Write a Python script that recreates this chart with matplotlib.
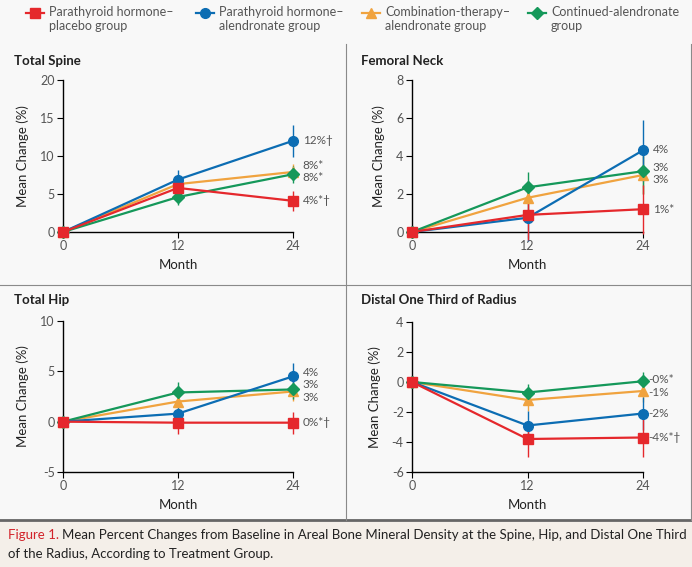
import matplotlib.pyplot as plt
from matplotlib.lines import Line2D

plt.rcParams['font.family'] = ['Lato', 'DejaVu Sans']
plt.rcParams['axes.unicode_minus'] = False

months = [0, 12, 24]
group_names = ['Parathyroid hormone\u2013\nplacebo group',
               'Parathyroid hormone\u2013\nalendronate group',
               'Combination-therapy\u2013\nalendronate group',
               'Continued-alendronate\ngroup']
colors = ['#e5282c', '#0c6db3', '#f0a33f', '#15985a']
markers = ['s', 'o', '^', 'D']
msizes = [6.5, 7, 6.5, 6]

# values per group: PTH-placebo, PTH-alendronate, combination, continued alendronate
spine_vals = [[0, 5.8, 4.1], [0, 6.9, 12.0], [0, 6.3, 7.9], [0, 4.6, 7.6]]
spine_err = [[0, 1.3, 1.3], [0, 1.3, 2.1], [0, 1.2, 1.1], [0, 1.0, 1.1]]
spine_labels = ['4%*\u2020', '12%\u2020', '8%*', '8%*']
spine_label_y = [4.1, 12.0, 8.7, 7.15]

neck_vals = [[0, 0.9, 1.2], [0, 0.75, 4.3], [0, 1.8, 3.0], [0, 2.35, 3.2]]
neck_err = [[0, 1.3, 1.3], [0, 1.2, 1.6], [0, 0.9, 1.0], [0, 0.8, 1.2]]
neck_labels = ['1%*', '4%', '3%', '3%']
neck_label_y = [1.2, 4.35, 2.78, 3.42]

hip_vals = [[0, -0.1, -0.1], [0, 0.8, 4.5], [0, 2.0, 3.0], [0, 2.9, 3.2]]
hip_err = [[0, 1.1, 1.1], [0, 0.9, 1.3], [0, 0.8, 0.9], [0, 1.0, 0.9]]
hip_labels = ['0%*\u2020', '4%', '3%', '3%']
hip_label_y = [-0.1, 4.85, 2.45, 3.65]

radius_vals = [[0, -3.8, -3.7], [0, -2.9, -2.1], [0, -1.2, -0.6], [0, -0.7, 0.05]]
radius_err = [[0, 1.2, 1.3], [0, 1.0, 1.1], [0, 0.7, 0.7], [0, 0.6, 0.6]]
radius_labels = ['-4%*\u2020', '-2%', '-1%', '-0%*']
radius_label_y = [-3.73, -2.07, -0.68, 0.14]

panels = [
    ('Total Spine', spine_vals, spine_err, spine_labels, spine_label_y, (0, 20), [0, 5, 10, 15, 20]),
    ('Femoral Neck', neck_vals, neck_err, neck_labels, neck_label_y, (0, 8), [0, 2, 4, 6, 8]),
    ('Total Hip', hip_vals, hip_err, hip_labels, hip_label_y, (-5, 10), [-5, 0, 5, 10]),
    ('Distal One Third of Radius', radius_vals, radius_err, radius_labels, radius_label_y, (-6, 4), [-6, -4, -2, 0, 2, 4]),
]

W, H = 692, 567
fig = plt.figure(figsize=(W / 100, H / 100), dpi=100)
fig.patch.set_facecolor('#f8f8f8')

# caption band and dividers
fig.patches.append(plt.Rectangle((0, 0), 1, (H - 521) / H, transform=fig.transFigure,
                                 facecolor='#f4efe9', edgecolor='none', zorder=0))
fig.add_artist(Line2D([0, 1], [(H - 520) / H] * 2, color='#666666', lw=2))
fig.add_artist(Line2D([0, 1], [(H - 285) / H] * 2, color='#8a8a8a', lw=0.8))
fig.add_artist(Line2D([346 / W] * 2, [(H - 520) / H, (H - 44) / H], color='#8a8a8a', lw=0.8))
fig.add_artist(Line2D([691 / W] * 2, [(H - 520) / H, (H - 44) / H], color='#8a8a8a', lw=0.8))

boxes = [(63, 293, 80, 232), (412, 643, 80, 232), (63, 293, 321, 472), (412, 643, 322, 472)]
title_pos = [(14, 61), (361, 61), (14, 300), (361, 300)]
label_dx = [7, 7, 7, 4]
order = [2, 3, 1, 0]

for k, ((title, vals, errs, labs, laby, ylim, yticks), (l, r, t, b), (tx, ty)) in enumerate(
        zip(panels, boxes, title_pos)):
    ax = fig.add_axes([l / W, (H - b) / H, (r - l) / W, (b - t) / H])
    ax.set_facecolor('none')
    for i in order:
        ax.errorbar(months, vals[i], yerr=errs[i], color=colors[i], marker=markers[i],
                    ms=msizes[i], lw=1.6, elinewidth=1, capsize=0, clip_on=False, zorder=3)
    for i in range(4):
        ax.annotate(labs[i], (24, laby[i]), xytext=(label_dx[k], 0), textcoords='offset points',
                    va='center', ha='left', fontsize=8.5, color='#555555', annotation_clip=False)
    ax.set_xlim(0, 24)
    ax.set_ylim(*ylim)
    ax.set_xticks(months)
    ax.set_yticks(yticks)
    for s in ['top', 'right']:
        ax.spines[s].set_visible(False)
    for s in ['left', 'bottom']:
        ax.spines[s].set_linewidth(1)
    ax.tick_params(length=4, width=0.8, labelsize=9, labelcolor='#555555', pad=2)
    ax.set_xlabel('Month', fontsize=9.5, color='#222222', labelpad=5)
    ax.set_ylabel('Mean Change (%)', fontsize=9.5, color='#222222', labelpad=8)
    fig.text(tx / W, 1 - ty / H, title, fontsize=9.5, fontweight='bold', color='#222222',
             ha='left', va='center')

# legend along the top
leg_x = [35, 205, 371, 537]
for i in range(4):
    fig.add_artist(Line2D([(leg_x[i] - 9) / W, (leg_x[i] + 9) / W], [1 - 13 / H] * 2,
                          color=colors[i], lw=1.6))
    fig.add_artist(Line2D([leg_x[i] / W], [1 - 13 / H], color=colors[i], marker=markers[i],
                          ms=msizes[i]))
    fig.text((leg_x[i] + 14) / W, 1 - 6 / H, group_names[i], fontsize=9, color='#555555',
             ha='left', va='top', linespacing=1.25)

fig.text(8 / W, 1 - 529 / H, 'Figure 1.', fontsize=9.5, color='#d2232a', ha='left', va='top')
fig.text(62 / W, 1 - 529 / H,
         'Mean Percent Changes from Baseline in Areal Bone Mineral Density at the Spine, Hip, and Distal One Third',
         fontsize=9.5, color='#222222', ha='left', va='top')
fig.text(8 / W, 1 - 548 / H, 'of the Radius, According to Treatment Group.',
         fontsize=9.5, color='#222222', ha='left', va='top')

fig.savefig('out.png', dpi=100, facecolor=fig.get_facecolor())
